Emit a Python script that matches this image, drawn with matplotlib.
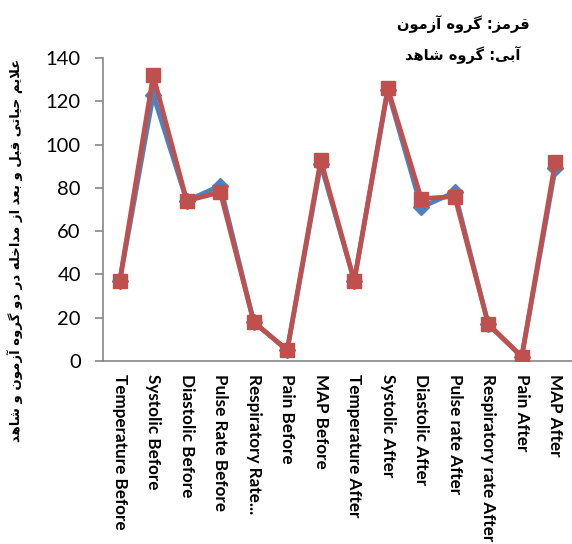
import matplotlib
matplotlib.use("Agg")
import matplotlib.pyplot as plt

# ---------------- data ----------------
categories = ["Temperature Before", "Systolic Before", "Diastolic Before",
              "Pulse Rate Before", "Respiratory Rate...", "Pain Before",
              "MAP Before", "Temperature After", "Systolic After",
              "Diastolic After", "Pulse rate After", "Respiratory rate After",
              "Pain After", "MAP After"]
control_blue = [37, 123, 74, 81, 18, 5, 91, 37, 125, 71, 78, 17, 2, 89]
test_red = [37, 132, 74, 78, 18, 5, 93, 37, 126, 75, 76, 17, 2, 92]
y_ticks = [0, 20, 40, 60, 80, 100, 120, 140]

legend_red = "قرمز: گروه آزمون"
legend_blue = "آبی: گروه شاهد"
y_label = "علایم حیاتی قبل و بعد از مداخله در دو گروه آزمون و شاهد"

# ------------- simple Persian shaping (visual order) -------------
FORMS = {  # isolated, final, initial, medial
    'ا': ('\uFE8D', '\uFE8E', None, None),
    'آ': ('\uFE81', '\uFE82', None, None),
    'ب': ('\uFE8F', '\uFE90', '\uFE91', '\uFE92'),
    'ت': ('\uFE95', '\uFE96', '\uFE97', '\uFE98'),
    'ح': ('\uFEA1', '\uFEA2', '\uFEA3', '\uFEA4'),
    'خ': ('\uFEA5', '\uFEA6', '\uFEA7', '\uFEA8'),
    'د': ('\uFEA9', '\uFEAA', None, None),
    'ر': ('\uFEAD', '\uFEAE', None, None),
    'ز': ('\uFEAF', '\uFEB0', None, None),
    'ش': ('\uFEB5', '\uFEB6', '\uFEB7', '\uFEB8'),
    'ع': ('\uFEC9', '\uFECA', '\uFECB', '\uFECC'),
    'ق': ('\uFED5', '\uFED6', '\uFED7', '\uFED8'),
    'ل': ('\uFEDD', '\uFEDE', '\uFEDF', '\uFEE0'),
    'م': ('\uFEE1', '\uFEE2', '\uFEE3', '\uFEE4'),
    'ن': ('\uFEE5', '\uFEE6', '\uFEE7', '\uFEE8'),
    'ه': ('\uFEE9', '\uFEEA', '\uFEEB', '\uFEEC'),
    'و': ('\uFEED', '\uFEEE', None, None),
    'ی': ('\uFBFC', '\uFBFD', '\uFBFE', '\uFBFF'),
    'گ': ('\uFB92', '\uFB93', '\uFB94', '\uFB95'),
}


def dual(c):
    return c in FORMS and FORMS[c][2] is not None


def shape(text):
    chars = list(text)
    out = []
    i = 0
    n = len(chars)
    while i < n:
        c = chars[i]
        prev = chars[i - 1] if i > 0 else ''
        joins_prev = dual(prev)
        if c == 'ل' and i + 1 < n and chars[i + 1] == 'ا':
            out.append('\uFEFC' if joins_prev else '\uFEFB')
            i += 2
            continue
        if c not in FORMS:
            out.append(c)
            i += 1
            continue
        nxt = chars[i + 1] if i + 1 < n else ''
        joins_next = dual(c) and nxt in FORMS
        iso, fin, ini, med = FORMS[c]
        if joins_prev and joins_next:
            out.append(med)
        elif joins_prev:
            out.append(fin)
        elif joins_next:
            out.append(ini)
        else:
            out.append(iso)
        i += 1
    return ''.join(reversed(out))


# ---------------- figure ----------------
fig = plt.figure(figsize=(5.72, 5.44), dpi=100)
ax = fig.add_axes([103 / 572, 183 / 544, 469 / 572, 303 / 544])

x = list(range(len(categories)))
ax.plot(x, control_blue, color='#4F81BD', linewidth=3.4, marker='D',
        markersize=8, markerfacecolor='#4F81BD', markeredgecolor='#4F81BD',
        zorder=3)
ax.plot(x, test_red, color='#C0504D', linewidth=3.4, marker='s',
        markersize=10.5, markerfacecolor='#C0504D', markeredgecolor='#C0504D',
        zorder=4)

ax.set_xlim(-0.5, len(categories) - 0.5)
ax.set_ylim(0, 140)
ax.set_yticks(y_ticks)
ax.set_yticklabels([str(v) for v in y_ticks], fontsize=14.5, family='Lato')
ax.set_xticks(x)
ax.set_xticklabels(categories, rotation=-90, fontsize=12.3, family='Lato',
                   fontweight='bold', va='top', ha='center')
ax.tick_params(axis='x', length=0, pad=9)
ax.tick_params(axis='y', length=6, width=1.2, color='#868686', pad=10,
               direction='out')

for side in ['top', 'right']:
    ax.spines[side].set_visible(False)
for side in ['left', 'bottom']:
    ax.spines[side].set_color('#868686')
    ax.spines[side].set_linewidth(1.2)

fig.text(463 / 572, 1 - 24 / 544, shape(legend_red), family='DejaVu Sans',
         fontweight='bold', fontsize=10.5, ha='center', va='center')
fig.text(463 / 572, 1 - 55 / 544, shape(legend_blue), family='DejaVu Sans',
         fontweight='bold', fontsize=10.5, ha='center', va='center')
fig.text(15 / 572, 1 - 250 / 544, shape(y_label), family='DejaVu Sans',
         fontweight='bold', fontsize=9.5, rotation=90, ha='center',
         va='center')

fig.savefig('out.png', dpi=100)
